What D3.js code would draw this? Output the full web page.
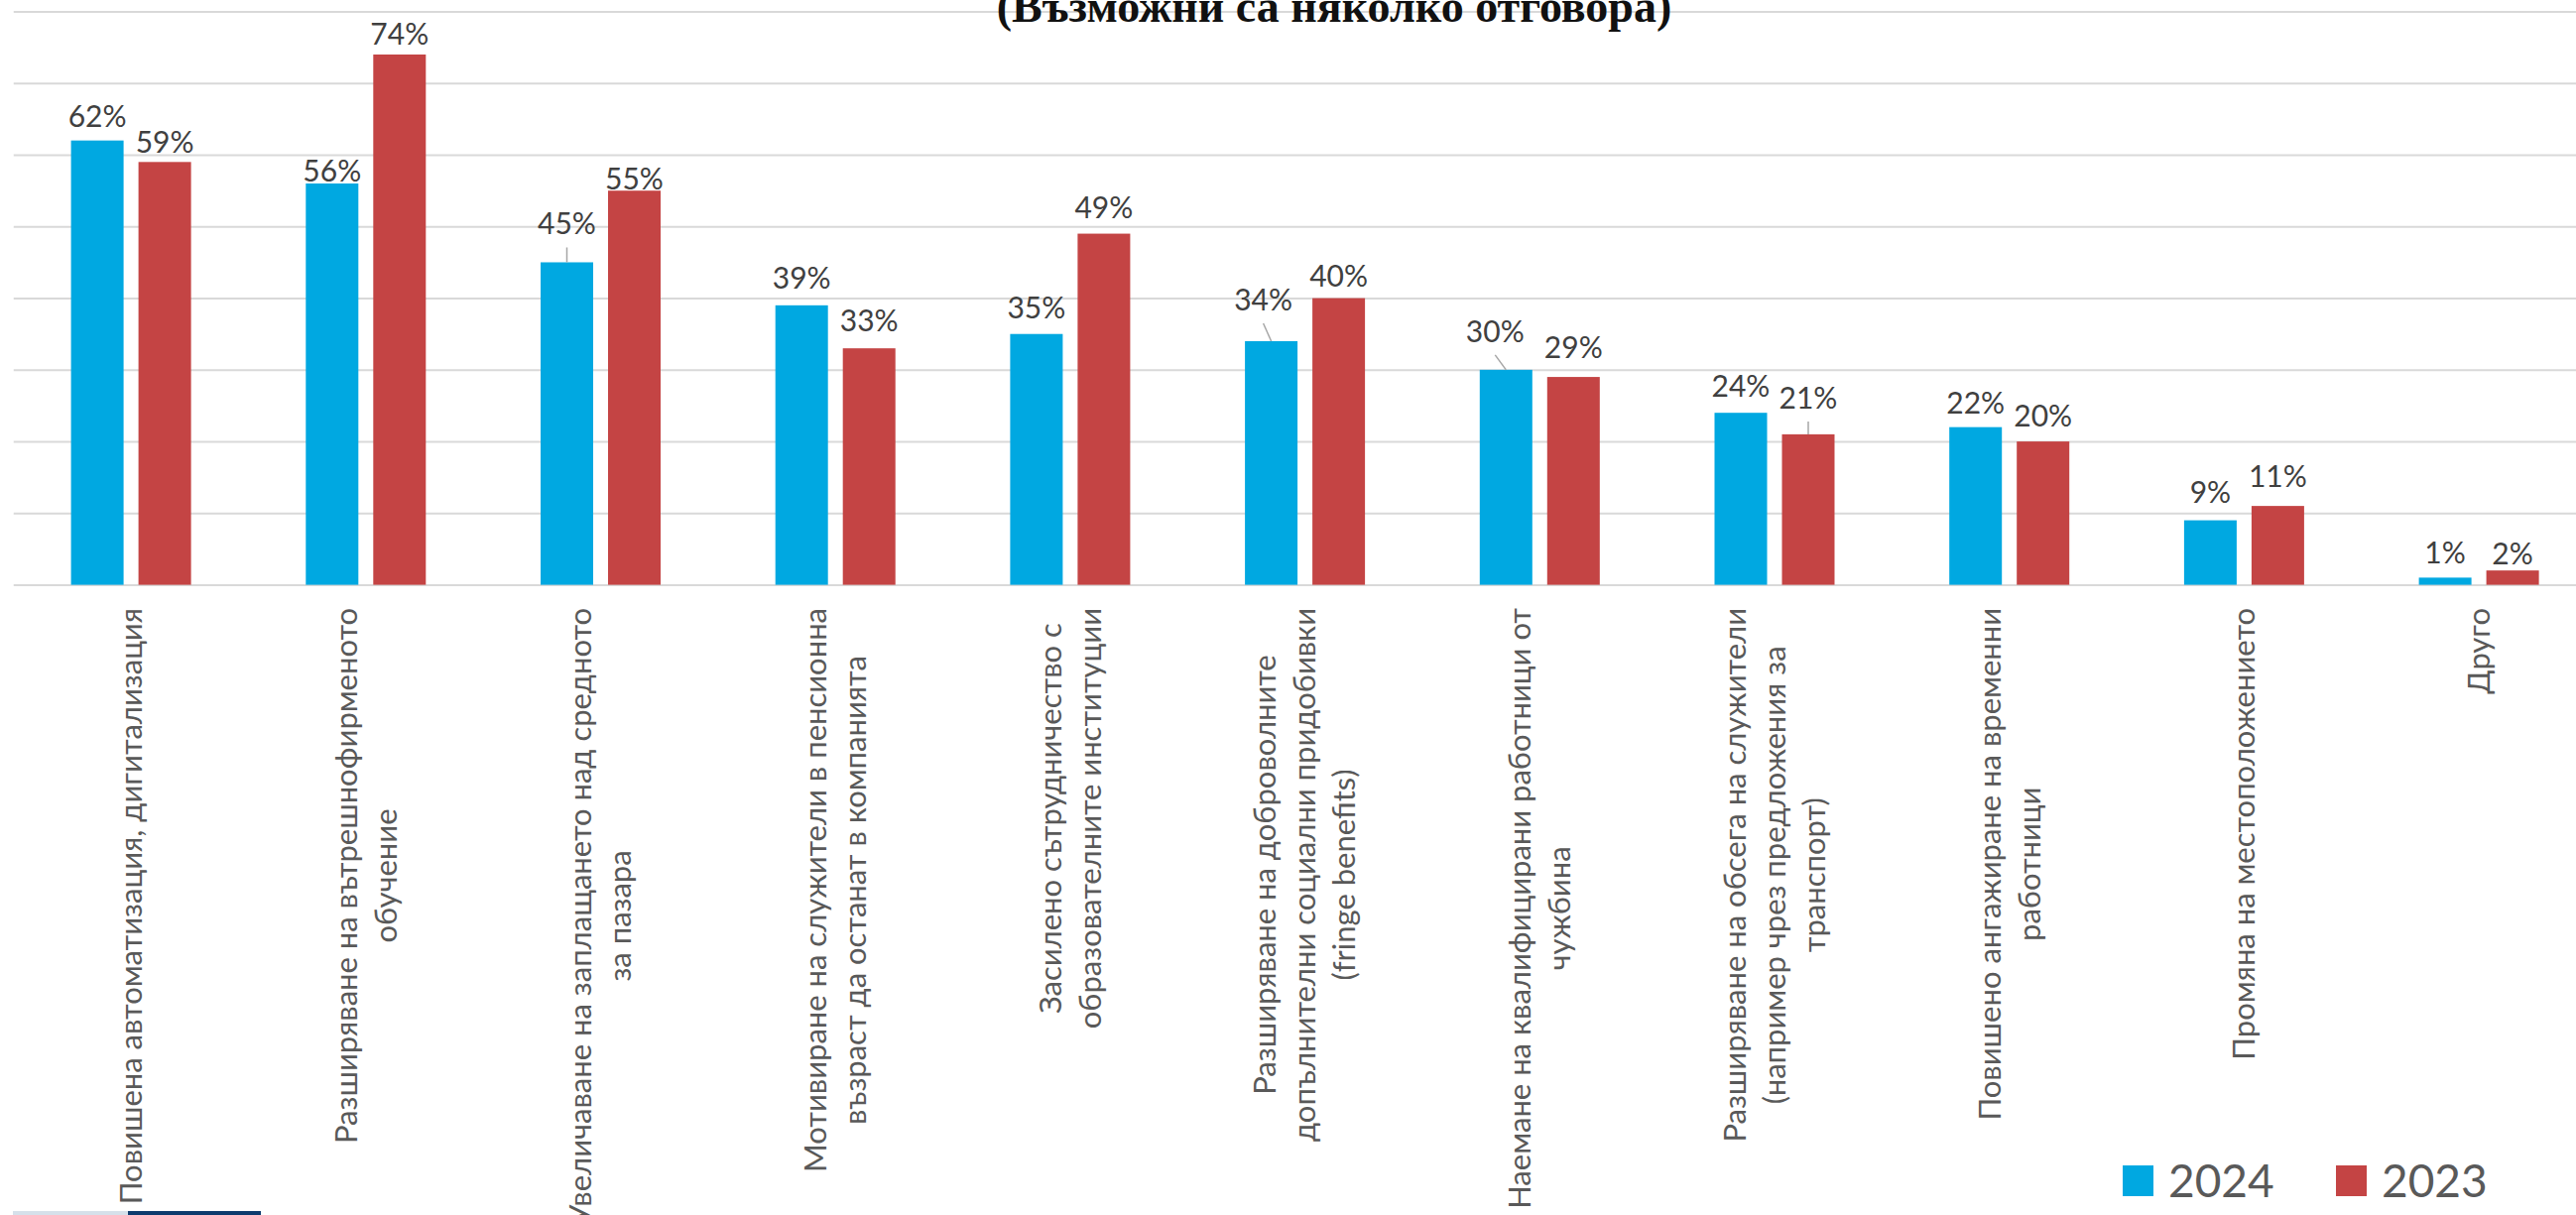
<!DOCTYPE html>
<html><head><meta charset="utf-8">
<script src="https://cdn.jsdelivr.net/npm/d3@7"></script>
<style>
html,body{margin:0;padding:0;background:#fff;overflow:hidden}
svg{display:block}
</style></head><body>
<svg id="chart" width="2597" height="1225"></svg>
<script>
// ---------- data ----------
const categories = [
  "Повишена автоматизация, дигитализация",
  "Разширяване на вътрешнофирменото\nобучение",
  "Увеличаване на заплащането над средното\nза пазара",
  "Мотивиране на служители в пенсионна\nвъзраст да останат в компанията",
  "Засилено сътрудничество с\nобразователните институции",
  "Разширяване на доброволните\nдопълнителни социални придобивки\n(fringe benefits)",
  "Наемане на квалифицирани работници от\nчужбина",
  "Разширяване на обсега на служители\n(например чрез предложения за\nтранспорт)",
  "Повишено ангажиране на временни\nработници",
  "Промяна на местоположението",
  "Друго"
];
const seriesNames = ["2024", "2023"];
const values2024 = [62, 56, 45, 39, 35, 34, 30, 24, 22, 9, 1];
const values2023 = [59, 74, 55, 33, 49, 40, 29, 21, 20, 11, 2];
const yTicks = [0, 10, 20, 30, 40, 50, 60, 70, 80];
const titleText = "(Възможни са няколко отговора)";

// ---------- layout / style ----------
const W = 2597, H = 1225;
const plot = {left: 13.75, right: 2617.45, top: 11.6, bottom: 589.6};
const colors = {"2024": "#00a8e1", "2023": "#c44444"};
const labelFont = "Lato, 'Noto Sans', sans-serif";
const defaultGap = 14;
// manual data-label placement tweaks (as in the source chart)
const labelTweaks = {
  "0-1": {gap: 9}, "0-0": {gap: 14},
  "1-0": {gap: 2}, "1-1": {gap: 10},
  "2-0": {gap: 28, leader: true}, "2-1": {gap: 1},
  "3-0": {gap: 17}, "3-1": {gap: 17},
  "4-0": {gap: 16}, "4-1": {gap: 16},
  "5-0": {gap: 31, dx: -8, leader: true}, "5-1": {gap: 12},
  "6-0": {gap: 28, dx: -11, leader: true}, "6-1": {gap: 19},
  "7-0": {gap: 16}, "7-1": {gap: 26, leader: true},
  "8-0": {gap: 14}, "8-1": {gap: 15},
  "9-0": {gap: 18}, "9-1": {gap: 19},
  "10-0": {gap: 14}, "10-1": {gap: 6}
};

const svg = d3.select("#chart");
svg.append("rect").attr("width", W).attr("height", H).attr("fill", "#fff");

const x0 = d3.scaleBand().domain(categories).range([plot.left, plot.right])
  .paddingInner(0.4888).paddingOuter(0.2444);
const x1 = d3.scaleBand().domain(seriesNames).range([0, x0.bandwidth()])
  .paddingInner(0.2206).paddingOuter(0);
const y = d3.scaleLinear().domain([0, 80]).range([plot.bottom, plot.top]);

const seriesValues = {"2024": values2024, "2023": values2023};

// gridlines
const grid = svg.append("g").attr("transform", `translate(${plot.left},0)`)
  .call(d3.axisLeft(y).tickValues(yTicks).tickSize(-(W - plot.left)).tickFormat(""));
grid.select(".domain").remove();
grid.selectAll("line").attr("stroke", "#d9d9d9").attr("stroke-width", 2);

// title (partially cropped at top)
svg.append("text").attr("x", 1345).attr("y", 21.5)
  .attr("text-anchor", "middle")
  .attr("font-family", "'Liberation Serif', 'DejaVu Serif', serif")
  .attr("font-weight", "bold").attr("font-size", 46).attr("fill", "#111")
  .text(titleText);

// bars
const groups = svg.append("g").selectAll("g").data(categories).join("g")
  .attr("transform", d => `translate(${x0(d)},0)`);
groups.selectAll("rect")
  .data((c, i) => seriesNames.map(s => ({s, v: seriesValues[s][i], i})))
  .join("rect")
  .attr("x", d => x1(d.s))
  .attr("y", d => y(d.v))
  .attr("width", x1.bandwidth())
  .attr("height", d => y(0) - y(d.v))
  .attr("fill", d => colors[d.s]);

// data labels
const labelsG = svg.append("g");
categories.forEach((c, i) => {
  seriesNames.forEach((s, si) => {
    const v = seriesValues[s][i];
    const tw = labelTweaks[`${i}-${si}`] || {};
    const gap = tw.gap ?? defaultGap;
    const barCx = x0(c) + x1(s) + x1.bandwidth() / 2;
    const lx = barCx + (tw.dx || 0);
    const ly = y(v) - gap;
    if (tw.leader) {
      labelsG.append("line")
        .attr("x1", lx).attr("y1", ly + 13)
        .attr("x2", barCx).attr("y2", y(v))
        .attr("stroke", "#a6a6a6").attr("stroke-width", 1.5);
    }
    labelsG.append("text").attr("x", lx).attr("y", ly)
      .attr("text-anchor", "middle")
      .attr("font-family", labelFont).attr("font-size", 30)
      .attr("fill", "#404040")
      .text(v + "%");
  });
});

// category axis
const labelTop = 613, lineH = 40, axisFontSize = 31;
const xAxis = svg.append("g").attr("transform", `translate(0,${plot.bottom})`)
  .call(d3.axisBottom(x0).tickSize(0).tickPadding(0));
xAxis.select(".domain").remove();
xAxis.selectAll(".tick text").each(function(d) {
  const t = d3.select(this);
  t.text(null).attr("y", null).attr("dy", null)
    .attr("font-family", labelFont).attr("font-size", axisFontSize)
    .attr("fill", "#595959")
    .attr("text-anchor", "middle")
    .attr("transform", `translate(0,${labelTop - plot.bottom}) rotate(-90)`);
  const lines = d.split("\n");
  const n = lines.length;
  const spans = lines.map((ln, k) => t.append("tspan")
    .attr("y", (k - (n - 1) / 2) * lineH + axisFontSize * 0.35)
    .text(ln));
  const maxLen = d3.max(spans, sp => sp.node().getComputedTextLength());
  spans.forEach(sp => sp.attr("x", -maxLen / 2));
});

// legend
const legend = svg.append("g");
const legendItems = [{s: "2024", x: 2140}, {s: "2023", x: 2355}];
legendItems.forEach(it => {
  legend.append("rect").attr("x", it.x).attr("y", 1175)
    .attr("width", 31).attr("height", 31).attr("fill", colors[it.s]);
  legend.append("text").attr("x", it.x + 46).attr("y", 1206.5)
    .attr("font-family", labelFont).attr("font-size", 46)
    .attr("fill", "#595959").text(it.s);
});

// decorative footer strip (cropped at bottom)
svg.append("rect").attr("x", 13).attr("y", 1221).attr("width", 116).attr("height", 4).attr("fill", "#d6e0ea");
svg.append("rect").attr("x", 129).attr("y", 1221).attr("width", 134).attr("height", 4).attr("fill", "#0d3b6e");
</script>
</body></html>
